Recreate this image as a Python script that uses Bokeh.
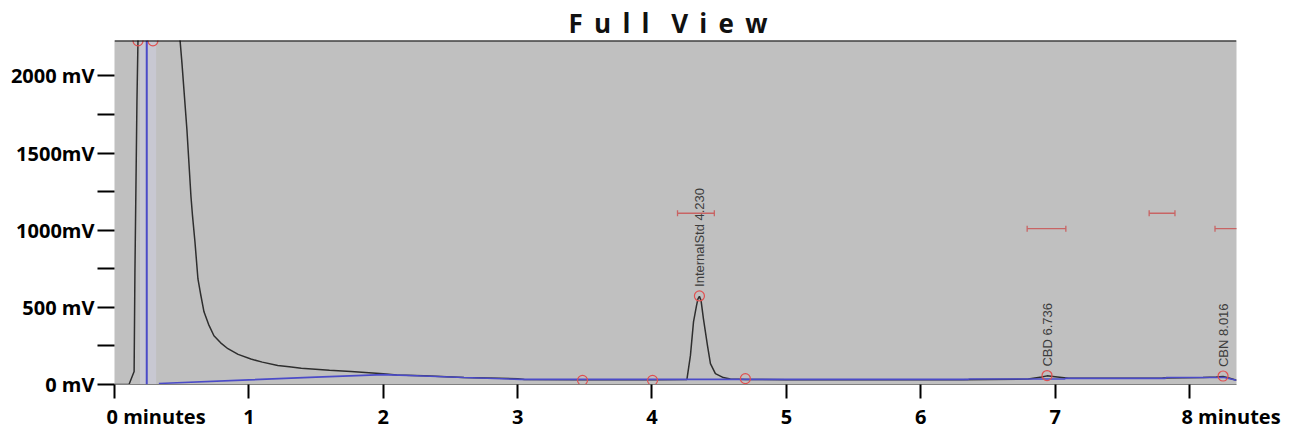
import numpy as np
from bokeh.plotting import figure
from bokeh.models import ColumnDataSource, Span, FixedTicker, Range1d
from bokeh.core.properties import value
from bokeh.embed import file_html
from bokeh.resources import INLINE

# ---- data ----
# detector signal (minutes, mV)
trace_t = [0.0, 0.108, 0.146, 0.152, 0.167, 0.178, 0.48, 0.487, 0.502, 0.539, 0.569,
           0.58, 0.599, 0.621, 0.64, 0.666, 0.70, 0.74, 0.79, 0.844, 0.92, 1.015, 1.1,
           1.215, 1.3, 1.39, 1.6, 1.76, 2.0, 2.1, 2.3,
           2.6, 3.0, 3.05, 3.5, 4.0, 4.26, 4.286, 4.309, 4.331, 4.342, 4.353, 4.365,
           4.383, 4.413, 4.435, 4.472, 4.531, 4.583, 4.7, 5.0, 6.3, 6.8, 6.9, 6.94,
           7.0, 7.1, 7.8, 8.1, 8.2, 8.25, 8.3, 8.35]
trace_mv = [0, 0, 84, 729, 1832, 2400, 2400, 2240, 2083, 1651, 1219,
            1100, 922, 684, 590, 471, 390, 316, 270, 232, 195, 165, 145,
            123, 115, 105, 92, 84, 70, 62, 56,
            46, 38, 33, 31, 30, 33, 187, 406, 510, 555, 572, 545,
            426, 252, 135, 71, 45, 36, 33, 31, 31, 35, 48, 56,
            50, 40, 42, 46, 48, 52, 40, 28]

# integration baseline (minutes, mV)
base_t = [0.33, 1.0, 1.5, 2.0, 2.3, 2.6, 3.02, 6.35, 6.36, 7.07, 7.08, 7.82, 7.83, 8.26, 8.35]
base_mv = [6, 30, 48, 64, 55, 45, 33, 33, 36, 36, 40, 40, 45, 45, 28]

# peak markers
peak_t = [0.175, 0.286, 3.483, 4.004, 4.353, 4.695, 6.94, 8.25]
peak_mv = [2228, 2228, 27, 27, 574, 38, 58, 55]

# named peaks
label_names = ["InternalStd 4.230", "CBD 6.736", "CBN 8.016"]
label_t = [4.353, 6.94, 8.25]
label_mv = [574, 58, 55]

# retention windows
window_lo = [4.19, 6.792, 7.70, 8.19]
window_hi = [4.464, 7.08, 7.892, 8.6]
window_mv = [1110, 1010, 1110, 1010]

# solvent / injection marker
solvent_t = 0.24
band_lo, band_hi = 0.19, 0.31

x_min, x_max = 0.0, 8.35
y_min, y_max = 0, 2230

x_ticks = [0, 1, 2, 3, 4, 5, 6, 7, 8]
x_tick_labels = ["0 minutes", "1", "2", "3", "4", "5", "6", "7", "8 minutes"]
y_ticks = [0, 250, 500, 750, 1000, 1250, 1500, 1750, 2000]
y_tick_labels = ["0 mV", "", "500 mV", "", "1000mV", "", "1500mV", "", "2000 mV"]

title_text = "Full View"

# ---- figure ----
p = figure(width=1296, height=432, x_range=Range1d(x_min, x_max), y_range=Range1d(y_min, y_max),
           output_backend="svg", toolbar_location=None,
           min_border_left=114, min_border_right=60, min_border_top=40, min_border_bottom=46,
           background_fill_color="#c0c0c0", border_fill_color="white")
p.outline_line_color = None
p.grid.visible = False

# letter-spaced title
gap, word_gap = "\u2004\u200a", "\u2002\u2004"
p.title.text = word_gap.join(gap.join(w) for w in title_text.split(" "))
p.title.align = "left"
p.title.offset = 454
p.title.text_font = "Open Sans"
p.title.text_font_style = "bold"
p.title.text_font_size = "26px"
p.title.text_color = "#111111"
p.title.standoff = 0

# x axis: number centred on its tick, unit text running to the right
pad = "\u00a0" * 16
p.xaxis.ticker = FixedTicker(ticks=x_ticks, minor_ticks=[])
p.xaxis.major_label_overrides = {t: (pad + s if len(s) > 1 else s) for t, s in zip(x_ticks, x_tick_labels)}
p.xaxis.major_label_text_font = "Open Sans"
p.xaxis.major_label_text_font_style = "bold"
p.xaxis.major_label_text_font_size = "20px"
p.xaxis.major_label_text_color = "black"
p.xaxis.major_label_standoff = 4
p.xaxis.major_tick_out = 14
p.xaxis.major_tick_in = 0
p.xaxis.major_tick_line_width = 2
p.xaxis.major_tick_line_color = "black"
p.xaxis.axis_line_color = "#808080"
p.xaxis.minor_tick_line_color = None

# y axis
p.yaxis.ticker = FixedTicker(ticks=y_ticks, minor_ticks=[])
p.yaxis.major_label_overrides = {t: s for t, s in zip(y_ticks, y_tick_labels)}
p.yaxis.major_label_text_font = "Open Sans"
p.yaxis.major_label_text_font_style = "bold"
p.yaxis.major_label_text_font_size = "20px"
p.yaxis.major_label_text_color = "black"
p.yaxis.major_label_standoff = 3
p.yaxis.major_tick_out = 17
p.yaxis.major_tick_in = 0
p.yaxis.major_tick_line_width = 2
p.yaxis.major_tick_line_color = "black"
p.yaxis.axis_line_color = None
p.yaxis.minor_tick_line_color = None

# light band around the injection marker
p.quad(left=[band_lo], right=[band_hi], bottom=[y_min], top=[y_max],
       fill_color="#c8c8d2", line_color=None)

# signal
p.line(trace_t, trace_mv, line_color="#2e2e2e", line_width=1.5)
# baseline
p.line(base_t, base_mv, line_color="#4b4bc8", line_width=1.6)

p.add_layout(Span(location=solvent_t, dimension="height", line_color="#4b4bc8", line_width=2))
p.add_layout(Span(location=y_max, dimension="width", line_color="black", line_width=2))

# retention windows
p.segment(x0=window_lo, y0=window_mv, x1=window_hi, y1=window_mv,
          line_color="#c86464", line_width=1.3)
p.scatter(window_lo + window_hi, window_mv + window_mv, marker="dash", angle=np.pi / 2,
          size=6, line_color="#c86464", line_width=1.3)

# peak markers
p.scatter(peak_t, peak_mv, marker="circle", size=10, fill_color=None,
          line_color="#e05050", line_width=1.2)

# peak names
lab_src = ColumnDataSource(dict(t=label_t, mv=label_mv, name=label_names))
p.text(x="t", y="mv", text="name", source=lab_src, angle=np.pi / 2,
       text_align="left", text_baseline="middle", y_offset=-9,
       text_font=value("Liberation Sans"), text_font_size="13px", text_color="#3c3c3c")

open("out.html", "w").write(file_html(p, INLINE))
